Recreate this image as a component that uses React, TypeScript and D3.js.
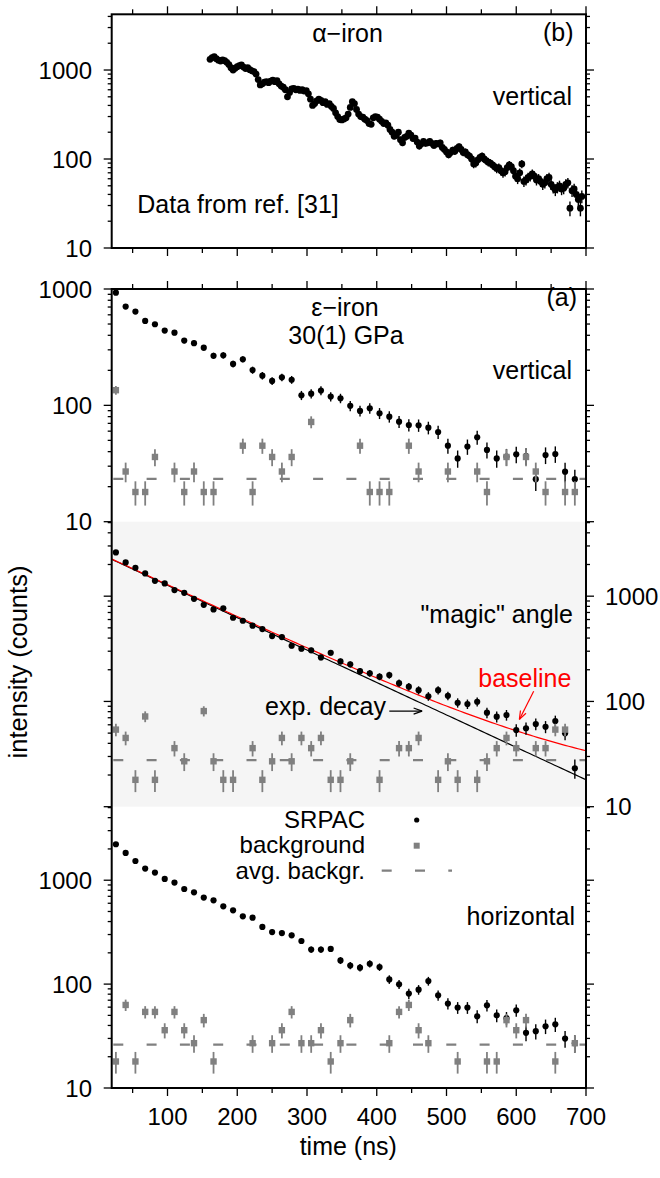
import React, { useEffect, useRef } from 'react';
import * as d3 from 'd3';

// time bins (ns) shared by the epsilon-iron panels
const binTimes = [
  26, 40, 54, 68, 82, 96, 110, 124, 138, 152, 166, 180, 194, 208, 222, 236,
  250, 264, 278, 292, 306, 320, 334, 348, 362, 376, 390, 404, 418, 432, 446, 460,
  474, 488, 502, 516, 530, 544, 558, 572, 586, 600, 614, 628, 642, 656, 670, 684,
];

const verticalSrpac = [
  930, 706, 640, 532, 498, 439, 421, 360, 342, 313, 267, 269, 227, 249, 201, 180,
  162, 174, 166, 122, 126, 134, 119, 115, 99, 89.6, 94.4, 85.5, 80, 72.4, 67.8, 67.4,
  64.3, 59, 45, 35, 44.2, 53.2, 41.4, 35, 36.2, 38, 36.7, 23.2, 37.4, 38.2, 26.9, 23.2,
];
const verticalBg = [
  135, 27, 18, 18, 36, null, 27, 18, 27, 18, 18, null, null, 45, 18, 45,
  36, 27, 36, null, 72, null, null, null, null, 45, 18, 18, 18, null, 45, 27,
  null, null, 27, null, null, 27, 18, null, 36, null, 36, 27, 18, null, 18, 18,
];

const magicSrpac = [
  2606, 2094, 1862, 1645, 1400, 1321, 1142, 1077, 944, 828, 749, 766, 624, 584, 524, 487,
  418, 409, 338, 317, 306, 262, 290, 240, 225, 194, 185, 172, 178, 149, 138, 128,
  112, 128, 113, 97.2, 94.5, 99.3, 78.2, 71.6, 74.3, 53.5, 55.6, 61, 57.5, 65.2, 49.8, 23.2,
];
const magicBg = [
  54, 45, 18, 72, 18, null, 36, 27, null, 81, 27, 18, 18, null, 36, 18,
  27, 45, 27, 45, 36, 45, 18, 18, 27, null, null, 18, null, 36, 36, 45,
  null, 18, 27, 18, null, 18, 27, 36, 45, 36, null, 36, 36, 54, 54, null,
];

const horizontalSrpac = [
  2218, 1829, 1531, 1294, 1184, 1028, 949, 823, 765, 680, 641, 561, 513, 449, 436, 355,
  317, 310, 295, 260, 215, 215, 218, 169, 151, 144, 157, 146, 111, 99.5, 81, 88.4,
  107, 78, 64.9, 59.4, 59.4, 49, 62.5, 50, 47, 56, 34, 35.2, 39.3, 41, 29.9, 27,
];
const horizontalBg = [
  18, 63, 18, 54, 54, 36, 54, 36, 27, 45, 18, null, null, null, 27, null,
  27, 36, 54, 27, 27, 36, 18, 27, 45, null, null, null, 27, 54, 63, 36,
  27, null, null, 18, null, null, 18, 18, 45, 36, 45, null, null, 18, null, 27,
];

const avgBackground = { vertical: 23.3, magic: 27.7, horizontal: 26.2 };

// exponential decay model drawn in the magic-angle panel
const decayAmplitude = 2582;
const lifetime = 141;
const baselineOffset = 16;

// alpha-iron, data from ref. [31]: [time (ns), counts]
const alphaIron: [number, number][] = [
  [161, 1320], [164, 1380], [167, 1410], [170, 1340], [173, 1290], [176, 1260], [179, 1300],
  [182, 1270], [185, 1220], [188, 1150], [191, 1060], [194, 1000], [197, 1050], [200, 1090],
  [203, 1120], [206, 1140], [209, 1080], [212, 1040], [215, 1060], [218, 1010], [221, 980],
  [224, 960], [227, 900], [230, 780], [233, 680], [236, 700], [239, 730], [242, 740],
  [245, 720], [248, 750], [251, 770], [254, 740], [257, 760], [260, 700], [263, 660],
  [266, 640], [269, 600], [272, 500], [275, 560], [278, 615], [281, 620], [284, 600],
  [287, 610], [290, 590], [293, 600], [296, 580], [299, 585], [302, 540], [305, 470],
  [308, 400], [311, 420], [314, 450], [317, 470], [320, 455], [323, 430], [326, 440],
  [329, 410], [332, 420], [335, 390], [338, 370], [341, 330], [344, 300], [347, 278],
  [350, 275], [353, 282], [356, 290], [359, 320], [362, 380], [365, 440], [368, 420],
  [371, 360], [374, 320], [377, 300], [380, 295], [383, 280], [386, 270], [389, 250],
  [392, 245], [395, 290], [398, 300], [401, 295], [404, 280], [407, 265], [410, 250],
  [413, 255], [416, 240], [419, 215], [422, 200], [425, 180], [428, 185], [431, 200],
  [434, 165], [437, 152], [440, 175], [443, 180], [446, 195], [449, 185], [452, 170],
  [455, 172], [458, 155], [461, 140], [464, 148], [467, 158], [470, 150], [473, 152],
  [476, 158], [479, 150], [482, 142], [485, 150], [488, 148], [491, 152], [494, 135],
  [497, 128], [500, 120], [503, 112], [506, 118], [509, 126], [512, 122], [515, 132],
  [518, 138], [521, 128], [524, 118], [527, 120], [530, 112], [533, 108], [536, 100],
  [539, 88], [542, 90], [545, 98], [548, 104], [551, 108], [554, 100], [557, 96],
  [560, 92], [563, 90], [566, 86], [569, 82], [572, 78], [575, 80], [578, 74],
  [581, 70], [584, 72], [587, 80], [590, 86], [593, 82], [596, 74], [599, 64],
  [602, 60], [605, 70], [608, 88], [611, 56], [614, 58], [617, 62], [620, 64],
  [623, 68], [626, 64], [629, 58], [632, 60], [635, 56], [638, 52], [641, 54],
  [644, 60], [647, 62], [650, 52], [653, 48], [656, 45], [659, 48], [662, 50],
  [665, 46], [668, 47], [671, 52], [674, 54], [677, 28], [680, 44], [683, 46],
  [686, 40], [689, 35], [692, 28], [694, 38],
];

const xTickMajor = [100, 200, 300, 400, 500, 600, 700];
const xTickMinor = [50, 150, 250, 350, 450, 550, 650];
const yTickLabels = [10, 100, 1000];

const FONT = '"Liberation Sans", Arial, Helvetica, sans-serif';
const GRAY = '#808080';

export default function App() {
  const ref = useRef<SVGSVGElement>(null);

  useEffect(() => {
    const svg = d3.select(ref.current);
    svg.selectAll('*').remove();

    const X0 = 111.7;
    const X1 = 586;
    const x = d3.scaleLinear().domain([20, 700]).range([X0, X1]);

    const yB = d3.scaleLog().domain([10, 4227]).range([248, 14.3]);
    const yV = d3.scaleLog().domain([10, 1000]).range([521.7, 289]);
    const yM = d3.scaleLog().domain([10, 5100]).range([806.7, 521.7]);
    const yH = d3.scaleLog().domain([10, 5100]).range([1088, 806.7]);

    const logTicks = (dom: number[]) => {
      const out: number[] = [];
      for (let e = 1; e <= 4; e++)
        for (let m = 1; m <= 9; m++) {
          const v = m * Math.pow(10, e);
          if (v >= dom[0] - 1e-9 && v <= dom[1] + 1e-9) out.push(v);
        }
      return out;
    };

    const g = svg.append('g');

    // magic angle shading
    g.append('rect')
      .attr('x', X0).attr('y', yM.range()[1])
      .attr('width', X1 - X0).attr('height', yM.range()[0] - yM.range()[1])
      .attr('fill', '#f5f5f5');

    // y ticks
    const yTicks = (y: d3.ScaleLogarithmic<number, number>, side: 'left' | 'right', labels: boolean) => {
      const x0 = side === 'left' ? X0 : X1;
      const dir = side === 'left' ? -1 : 1;
      logTicks(y.domain()).forEach((v) => {
        const major = Math.abs(Math.log10(v) - Math.round(Math.log10(v))) < 1e-9;
        const len = major ? 8 : 4;
        g.append('line')
          .attr('x1', x0).attr('x2', x0 + dir * len)
          .attr('y1', y(v)).attr('y2', y(v))
          .attr('stroke', '#000').attr('stroke-width', 1.3);
      });
      if (labels) {
        yTickLabels.forEach((v) => {
          g.append('text')
            .attr('x', side === 'left' ? 92 : 605)
            .attr('y', y(v))
            .attr('dy', '0.36em')
            .attr('text-anchor', side === 'left' ? 'end' : 'start')
            .attr('font-size', 24)
            .attr('font-family', FONT)
            .text(String(v));
        });
      }
    };
    yTicks(yB, 'left', true);
    yTicks(yB, 'right', false);
    yTicks(yV, 'left', true);
    yTicks(yV, 'right', false);
    yTicks(yM, 'left', false);
    yTicks(yM, 'right', true);
    yTicks(yH, 'left', true);
    yTicks(yH, 'right', false);

    // x ticks
    const xTicks = (yy: number, dir: number) => {
      xTickMajor.forEach((t) =>
        g.append('line').attr('x1', x(t)).attr('x2', x(t)).attr('y1', yy).attr('y2', yy + dir * 8)
          .attr('stroke', '#000').attr('stroke-width', 1.3));
      xTickMinor.forEach((t) =>
        g.append('line').attr('x1', x(t)).attr('x2', x(t)).attr('y1', yy).attr('y2', yy + dir * 5)
          .attr('stroke', '#000').attr('stroke-width', 1.3));
    };
    xTicks(14.3, -1);
    xTicks(248, 1);
    xTicks(289, -1);
    xTicks(1088, 1);

    xTickMajor.forEach((t) =>
      g.append('text').attr('x', x(t)).attr('y', 1125).attr('text-anchor', 'middle')
        .attr('font-size', 24).attr('font-family', FONT).text(String(t)));

    // average background dashed lines
    const avgLine = (y: d3.ScaleLogarithmic<number, number>, v: number) =>
      g.append('line')
        .attr('x1', X0 + 1.6).attr('x2', X1)
        .attr('y1', y(v)).attr('y2', y(v))
        .attr('stroke', GRAY).attr('stroke-width', 2.2)
        .attr('stroke-dasharray', '10 23.3');
    avgLine(yV, avgBackground.vertical);
    avgLine(yM, avgBackground.magic);
    avgLine(yH, avgBackground.horizontal);

    // model curves
    const modelT = d3.range(20, 701, 5);
    const decay = (t: number) => decayAmplitude * Math.exp(-t / lifetime);
    const lineGen = (f: (t: number) => number) =>
      d3.line<number>().x((t) => x(t)).y((t) => yM(f(t)))(modelT);
    g.append('path').attr('d', lineGen(decay)).attr('fill', 'none')
      .attr('stroke', '#000').attr('stroke-width', 1.2);
    g.append('path').attr('d', lineGen((t) => decay(t) + baselineOffset)).attr('fill', 'none')
      .attr('stroke', '#ff0000').attr('stroke-width', 1.2);

    // data points with sqrt(N) error bars
    const errBar = (y: d3.ScaleLogarithmic<number, number>, t: number, v: number, color: string, w: number) => {
      const e = Math.sqrt(v);
      g.append('line')
        .attr('x1', x(t)).attr('x2', x(t))
        .attr('y1', y(v + e)).attr('y2', y(Math.max(v - e, 1e-3)))
        .attr('stroke', color).attr('stroke-width', w);
    };
    const drawSrpac = (y: d3.ScaleLogarithmic<number, number>, vals: number[], r: number) => {
      vals.forEach((v, i) => {
        errBar(y, binTimes[i], v, '#000', 1.4);
        g.append('circle').attr('cx', x(binTimes[i])).attr('cy', y(v)).attr('r', r).attr('fill', '#000');
      });
    };
    const drawBg = (y: d3.ScaleLogarithmic<number, number>, vals: (number | null)[]) => {
      vals.forEach((v, i) => {
        if (v == null) return;
        errBar(y, binTimes[i], v, GRAY, 1.8);
        g.append('rect')
          .attr('x', x(binTimes[i]) - 3.2).attr('y', y(v) - 3.2)
          .attr('width', 6.4).attr('height', 6.4).attr('fill', GRAY);
      });
    };

    alphaIron.forEach(([t, v]) => errBar(yB, t, v, '#000', 1.4));
    alphaIron.forEach(([t, v]) =>
      g.append('circle').attr('cx', x(t)).attr('cy', yB(v)).attr('r', 3.4).attr('fill', '#000'));

    drawSrpac(yV, verticalSrpac, 3.1);
    drawBg(yV, verticalBg);
    drawSrpac(yM, magicSrpac, 3.1);
    drawBg(yM, magicBg);
    drawSrpac(yH, horizontalSrpac, 3.1);
    drawBg(yH, horizontalBg);

    // frames
    g.append('rect').attr('x', X0).attr('y', 14.3).attr('width', X1 - X0).attr('height', 248 - 14.3)
      .attr('fill', 'none').attr('stroke', '#000').attr('stroke-width', 2);
    g.append('rect').attr('x', X0).attr('y', 289).attr('width', X1 - X0).attr('height', 1088 - 289)
      .attr('fill', 'none').attr('stroke', '#000').attr('stroke-width', 2);

    // arrows
    const arrow = (x1: number, y1: number, x2: number, y2: number, color: string) => {
      g.append('line').attr('x1', x1).attr('y1', y1).attr('x2', x2).attr('y2', y2)
        .attr('stroke', color).attr('stroke-width', 1.2);
      const a = Math.atan2(y2 - y1, x2 - x1);
      const L = 9;
      const s = 0.35;
      [a + Math.PI - s, a + Math.PI + s].forEach((b) =>
        g.append('line').attr('x1', x2).attr('y1', y2)
          .attr('x2', x2 + L * Math.cos(b)).attr('y2', y2 + L * Math.sin(b))
          .attr('stroke', color).attr('stroke-width', 1.2));
    };
    arrow(x(625), yM(125), x(604.5), yM(67.5), '#ff0000');
    arrow(x(418), yM(81), x(465), yM(81), '#000');

    // text
    const label = (tx: number, ty: number, s: string, anchor = 'start', color = '#000', size = 25) =>
      g.append('text').attr('x', tx).attr('y', ty).attr('text-anchor', anchor)
        .attr('font-size', size).attr('font-family', FONT).attr('fill', color).text(s);

    label(347.5, 41.7, 'α−iron', 'middle');
    label(573.5, 41, '(b)', 'end');
    label(572, 105, 'vertical', 'end');
    label(137.3, 213.3, 'Data from ref. [31]');
    label(345, 316, 'ε−iron', 'middle');
    label(346, 344, '30(1) GPa', 'middle');
    label(577, 306, '(a)', 'end');
    label(572, 379.3, 'vertical', 'end');
    label(573, 623.3, '"magic" angle', 'end');
    label(478.3, 686.7, 'baseline', 'start', '#ff0000');
    label(265, 715, 'exp. decay');
    label(365, 828, 'SRPAC', 'end', '#000', 24);
    label(365, 853, 'background', 'end', '#000', 24);
    label(365, 878.5, 'avg. backgr.', 'end', '#000', 24);
    label(575, 925, 'horizontal', 'end');
    label(348.3, 1155, 'time (ns)', 'middle');

    // legend samples
    g.append('circle').attr('cx', 416.7).attr('cy', 820).attr('r', 2.6).attr('fill', '#000');
    g.append('rect').attr('x', 413.7).attr('y', 842.7).attr('width', 6).attr('height', 6).attr('fill', GRAY);
    g.append('line').attr('x1', 381.7).attr('x2', 452).attr('y1', 870.7).attr('y2', 870.7)
      .attr('stroke', GRAY).attr('stroke-width', 2.2).attr('stroke-dasharray', '10 23.3');

    g.append('text')
      .attr('transform', 'translate(27,662) rotate(-90)')
      .attr('text-anchor', 'middle')
      .attr('font-size', 25.5)
      .attr('font-family', FONT)
      .text('intensity (counts)');
  }, []);

  return (
    <svg
      ref={ref}
      width={660}
      height={1178}
      style={{ position: 'absolute', left: 0, top: 0, background: '#fff' }}
    />
  );
}
